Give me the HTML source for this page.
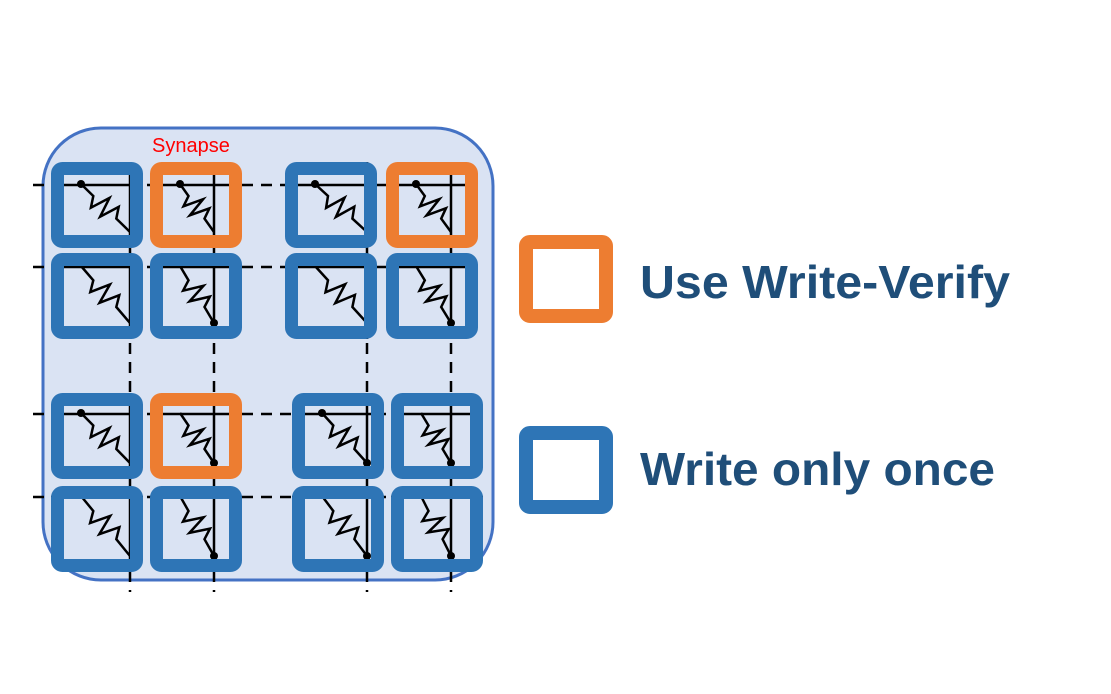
<!DOCTYPE html>
<html><head><meta charset="utf-8"><style>
html,body{margin:0;padding:0;background:#fff;width:1111px;height:694px;overflow:hidden}
svg{display:block}
</style></head><body>
<svg id="s" width="1111" height="694" viewBox="0 0 1111 694" xmlns="http://www.w3.org/2000/svg">
<rect x="43" y="128" width="450" height="452" rx="58" fill="#dae3f3" stroke="#4472c4" stroke-width="3"/>
<g id="dash" stroke="#000" stroke-width="2.5" stroke-dasharray="11,8" fill="none"></g>
<g id="cells"></g>
<text x="152" y="152" font-family="Liberation Sans, sans-serif" font-size="20" fill="#ff0000">Synapse</text>
<rect x="526" y="242" width="80" height="74" rx="4" fill="#fff" stroke="#ed7d31" stroke-width="14"/>
<rect x="526" y="433" width="80" height="74" rx="4" fill="#fff" stroke="#2e75b6" stroke-width="14"/>
<text x="640" y="298" font-family="Liberation Sans, sans-serif" font-weight="bold" font-size="46" fill="#1f4e79" textLength="370" lengthAdjust="spacingAndGlyphs">Use Write-Verify</text>
<text x="640" y="485" font-family="Liberation Sans, sans-serif" font-weight="bold" font-size="46" fill="#1f4e79" textLength="355" lengthAdjust="spacingAndGlyphs">Write only once</text>
</svg>
<script>
var NS="http://www.w3.org/2000/svg";
function el(p,t,a){var e=document.createElementNS(NS,t);for(var k in a)e.setAttribute(k,a[k]);p.appendChild(e);return e;}
var dash=document.getElementById('dash'),cells=document.getElementById('cells');
var hy=[185,267,414,497];
var vx=[130,214,367,451];
[[33,478],[33,478],[33,484],[33,484]].forEach(function(r,i){el(dash,'line',{x1:r[0],y1:hy[i],x2:r[1],y2:hy[i]});});
vx.forEach(function(x){el(dash,'line',{x1:x,y1:172,x2:x,y2:592});});
var rowY=[162,253,393,486];
var colX=[[51,150,285,386],[51,150,285,386],[51,150,292,391],[51,150,292,391]];
var colors=[["b","o","b","o"],["b","b","b","b"],["b","o","b","b"],["b","b","b","b"]];
var dots=[[[1,0],[1,0],[1,0],[1,0]],[[0,0],[0,1],[0,0],[0,1]],[[1,0],[0,1],[1,1],[0,1]],[[0,0],[0,1],[0,1],[0,1]]];
for(var r=0;r<4;r++)for(var c=0;c<4;c++){
 var bx=colX[r][c],by=rowY[r],w=92,h=86;
 var col=colors[r][c]=="o"?"#ed7d31":"#2e75b6";
 el(cells,'rect',{x:bx+6,y:by+6,width:w-12,height:h-12,fill:"#dae3f3"});
 var y=hy[r],x=vx[c];
 el(cells,'line',{x1:bx,y1:y,x2:bx+w,y2:y,stroke:"#000","stroke-width":2.5});
 el(cells,'line',{x1:x,y1:by,x2:x,y2:by+h,stroke:"#000","stroke-width":2.5});
 var sx=bx+30,sy=y-1,ex=x,ey=by+70;
 var dx=ex-sx,dy=ey-sy,L=Math.sqrt(dx*dx+dy*dy),ux=dx/L,uy=dy/L,nx=-uy,ny=ux;
 var pts=[[sx,sy]];var n=5,t0=0.25,t1=0.72;
 pts.push([sx+dx*t0,sy+dy*t0]);
 for(var i=1;i<n;i++){var t=t0+(t1-t0)*i/n,a=(i%2?10:-10);pts.push([sx+dx*t+nx*a,sy+dy*t+ny*a]);}
 pts.push([sx+dx*t1,sy+dy*t1]);pts.push([ex,ey]);
 el(cells,'polyline',{points:pts.map(function(p){return p[0].toFixed(1)+","+p[1].toFixed(1)}).join(" "),fill:"none",stroke:"#000","stroke-width":2.5,"stroke-linejoin":"miter"});
 if(dots[r][c][0])el(cells,'circle',{cx:sx,cy:sy,r:4,fill:"#000"});
 if(dots[r][c][1])el(cells,'circle',{cx:ex,cy:ey,r:4,fill:"#000"});
 el(cells,'rect',{x:bx+6.5,y:by+6.5,width:w-13,height:h-13,rx:5,fill:"none",stroke:col,"stroke-width":13});
}
</script>
</body></html>
